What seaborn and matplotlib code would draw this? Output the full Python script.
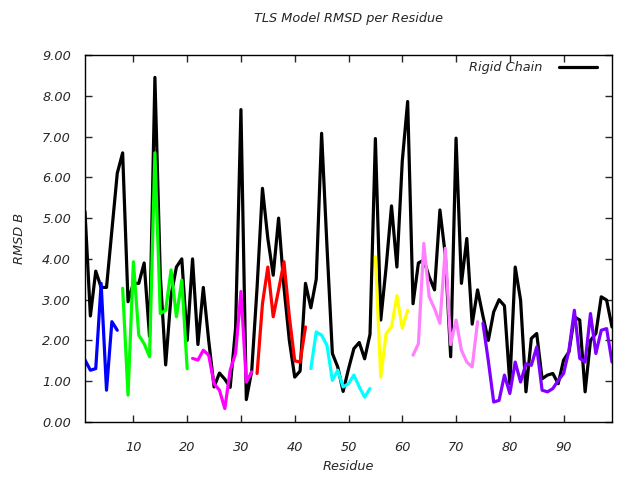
import matplotlib
matplotlib.use("Agg")
import matplotlib.pyplot as plt
import seaborn as sns
import pandas as pd
import numpy as np

sns.set_style("white")
plt.rcParams['font.family'] = ['DejaVu Sans']

residues = list(range(1, 100))
rigid_chain = [5.16, 2.6, 3.7, 3.3, 3.3, 4.7, 6.1, 6.6, 2.95, 3.4,
               3.4, 3.9, 2.1, 8.45, 3.6, 1.4, 3.1, 3.8, 4.0, 2.0,
               4.0, 1.9, 3.3, 2.0, 0.86, 1.2, 1.05, 0.85, 2.3, 7.66,
               0.55, 1.25, 3.3, 5.73, 4.5, 3.6, 5.0, 3.3, 2.0, 1.1,
               1.25, 3.4, 2.8, 3.5, 7.08, 4.3, 1.68, 1.35, 0.75, 1.3,
               1.8, 1.95, 1.55, 2.15, 6.95, 2.5, 3.8, 5.3, 3.8, 6.4,
               7.86, 2.9, 3.9, 3.97, 3.56, 3.24, 5.2, 4.1, 1.6, 6.96,
               3.4, 4.5, 2.4, 3.24, 2.6, 2.0, 2.7, 3.0, 2.85, 0.94,
               3.8, 2.99, 0.74, 2.05, 2.17, 1.06, 1.15, 1.19, 0.94, 1.52,
               1.72, 2.58, 2.5, 0.74, 2.0, 2.17, 3.07, 2.99, 2.33]

group_starts = [1, 8, 21, 33, 43, 55, 62, 75]
group_colors = ["#0000ff", "#00ff00", "#ff00ff", "#ff0000", "#00ffff",
                "#ffff00", "#ff80ff", "#8000ff"]
group_values = [
    [1.52, 1.27, 1.31, 3.4, 0.78, 2.46, 2.25],
    [3.28, 0.66, 3.93, 2.13, 1.92, 1.6, 6.6, 2.66, 2.74, 3.73, 2.58, 3.48, 1.31],
    [1.56, 1.52, 1.76, 1.64, 0.94, 0.78, 0.33, 1.27, 1.68, 3.2, 0.98, 1.23],
    [1.19, 2.9, 3.8, 2.58, 3.24, 3.93, 2.58, 1.5, 1.47, 2.33],
    [1.31, 2.21, 2.13, 1.88, 1.02, 1.27, 0.86, 0.94, 1.15, 0.86, 0.61, 0.82],
    [4.05, 1.1, 2.17, 2.33, 3.1, 2.3, 2.74],
    [1.64, 1.92, 4.38, 3.07, 2.78, 2.42, 4.26, 1.9, 2.5, 1.76, 1.47, 1.35, 2.46],
    [2.42, 1.5, 0.49, 0.53, 1.15, 0.7, 1.47, 0.98, 1.43, 1.39, 1.84, 0.78, 0.74,
     0.82, 1.02, 1.19, 1.76, 2.74, 1.56, 1.47, 2.66, 1.68, 2.25, 2.29, 1.47],
]

rows = []
for gi, (start, vals) in enumerate(zip(group_starts, group_values)):
    for k, v in enumerate(vals):
        rows.append({"Residue": start + k, "RMSD": v, "group": f"g{gi}"})
groups_df = pd.DataFrame(rows)
rigid_df = pd.DataFrame({"Residue": residues, "RMSD": rigid_chain})

FS = 9.3
fig = plt.figure(figsize=(6.4, 4.8), dpi=100)
ax = fig.add_axes([85/640, 1-422/480, (612-85)/640, (422-55)/480])

sns.lineplot(data=rigid_df, x="Residue", y="RMSD", color="black", lw=2.3,
             label="Rigid Chain", ax=ax, estimator=None, sort=False)
palette = {f"g{i}": c for i, c in enumerate(group_colors)}
sns.lineplot(data=groups_df, x="Residue", y="RMSD", hue="group", palette=palette,
             lw=2.3, legend=False, ax=ax, estimator=None, sort=False)

ax.set_xlim(1, 99)
ax.set_ylim(0, 9)
ax.set_xticks([10, 20, 30, 40, 50, 60, 70, 80, 90])
ax.set_yticks(np.arange(0, 10, 1))
ax.set_yticklabels([f"{v:.2f}" for v in range(10)])
for s in ax.spines.values():
    s.set_color("black")
    s.set_linewidth(1.0)
ax.tick_params(direction="in", length=5, width=1, top=True, right=True,
               bottom=True, left=True, labelsize=FS)
ax.tick_params(axis="x", pad=14)
ax.tick_params(axis="y", pad=10)
for lab in ax.get_xticklabels() + ax.get_yticklabels():
    lab.set_fontstyle("italic")

ax.set_title("TLS Model RMSD per Residue", fontsize=FS, style="italic", pad=24)
ax.set_xlabel("Residue", fontsize=FS, style="italic", labelpad=4)
ax.set_ylabel("RMSD B", fontsize=FS, style="italic", labelpad=12)

leg = ax.legend(loc="upper right", frameon=False, markerfirst=False,
                handlelength=2.9, handletextpad=1.3, fontsize=FS,
                borderaxespad=0.1, bbox_to_anchor=(1 - 9/527, 1))
for t in leg.get_texts():
    t.set_fontstyle("italic")

fig.savefig("out.png", dpi=100)
